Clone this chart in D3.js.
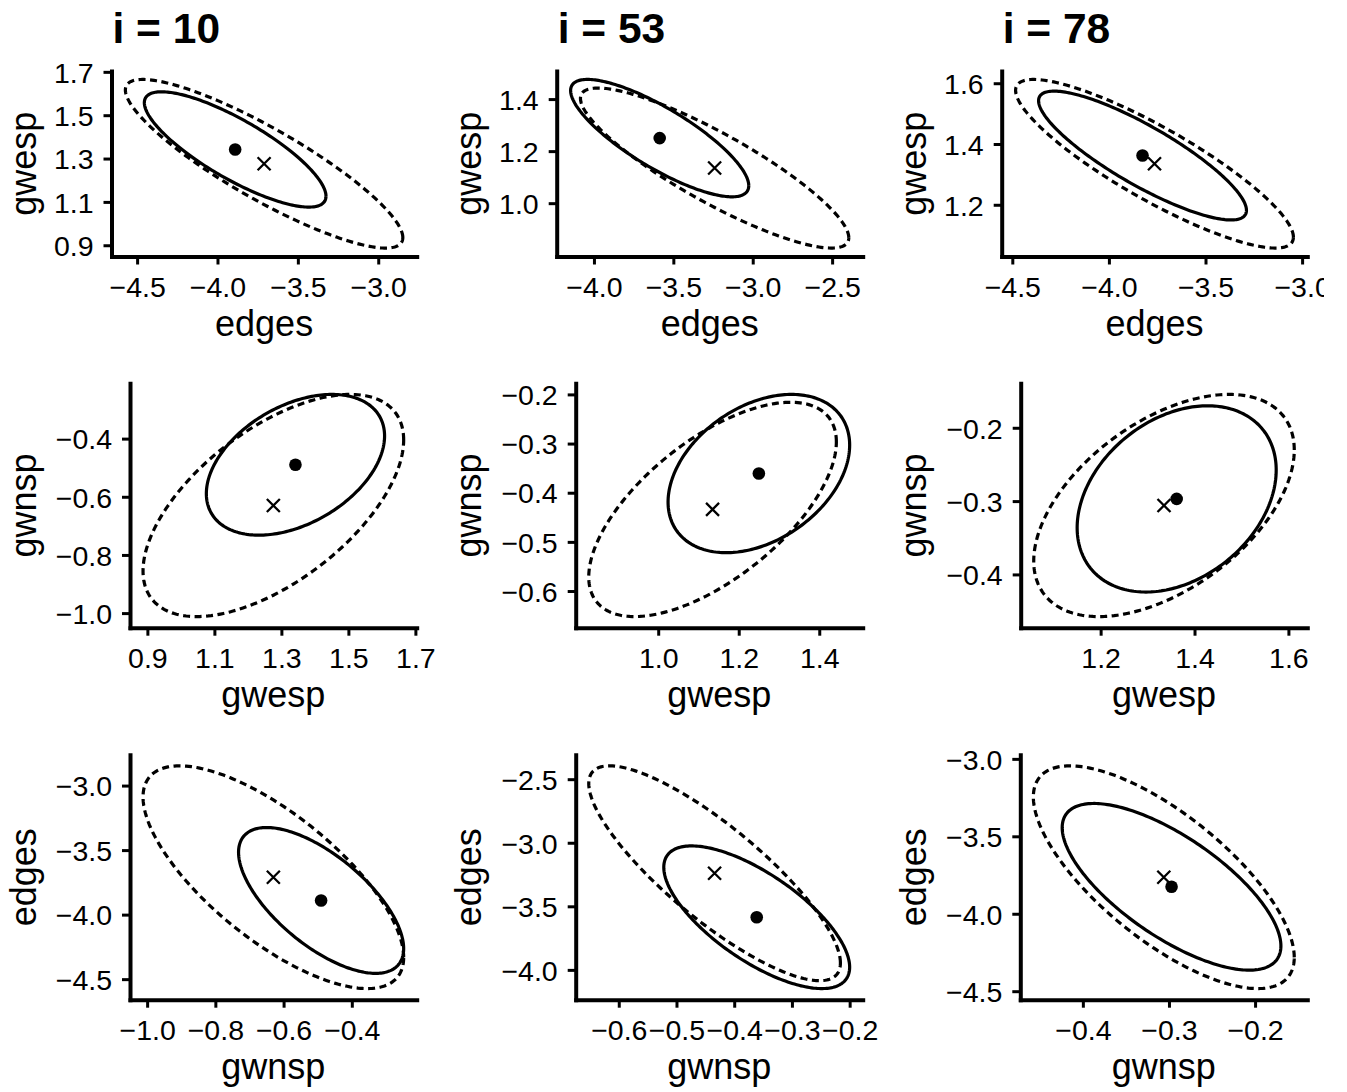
<!DOCTYPE html>
<html><head><meta charset="utf-8">
<script src="https://cdn.jsdelivr.net/npm/d3@7"></script>
<style>
body{margin:0;background:#fff}
svg{display:block}
text{font-family:"Liberation Sans",Arial,Helvetica,sans-serif;fill:#000}
</style>
</head><body>
<svg id="chart" width="1347" height="1092"></svg>
<script>
// ---------------- data ----------------
const iterations = [10, 53, 78];
const variables = ["edges", "gwesp", "gwnsp"];
// panel rows: [x variable index, y variable index]
const rowPairs = [[0, 1], [1, 2], [2, 0]];

// point estimates per iteration, order: edges, gwesp, gwnsp
const dotMean   = [[-3.89, 1.342, -0.490], [-3.586, 1.250, -0.361], [-3.826, 1.362, -0.297]];
const crossMean = [[-3.71, 1.276, -0.630], [-3.240, 1.135, -0.434], [-3.764, 1.335, -0.306]];

// ellipse half-extents per variable (solid around dot, dashed around cross)
const solidRadius  = [[0.565, 0.266, 0.242], [0.561, 0.2255, 0.161], [0.538, 0.212, 0.127]];
const dashedRadius = [[0.863, 0.389, 0.382], [0.845, 0.3075, 0.218], [0.719, 0.2775, 0.1515]];

// correlations per panel row: edges-gwesp, gwesp-gwnsp, gwnsp-edges
const solidCorr  = [[-0.81, 0.41, -0.66], [-0.81, 0.36, -0.70], [-0.85, 0.31, -0.71]];
const dashedCorr = [[-0.875, 0.59, -0.72], [-0.87, 0.63, -0.835], [-0.87, 0.50, -0.72]];

// tick values per iteration column
const edgesTicks = [[-4.5, -4.0, -3.5, -3.0], [-4.0, -3.5, -3.0, -2.5], [-4.5, -4.0, -3.5, -3.0]];
const gwespTicks = [[0.9, 1.1, 1.3, 1.5, 1.7], [1.0, 1.2, 1.4], [1.2, 1.4, 1.6]];
const gwnspTicks = [[-1.0, -0.8, -0.6, -0.4], [-0.6, -0.5, -0.4, -0.3, -0.2], [-0.4, -0.3, -0.2]];
const tickSets = [edgesTicks, gwespTicks, gwnspTicks];

// ---------------- layout ----------------
const rowTop = [71, 383.3, 754.7];
const rowBottom = [256.5, 627.7, 999.7];
const panelLeft = [[111.5, 130, 130], [556.7, 575.7, 575.7], [1001.7, 1020.7, 1020.3]];
const panelRight = [416.7, 862.7, 1307.3];
const yTitleX = [36, 481, 926];
const tickFont = 28.5, titleFont = 36, headFont = 42.5;

const svg = d3.select("#chart");
svg.append("rect").attr("width", 1347).attr("height", 1092).attr("fill", "#fff");
svg.append("defs").append("clipPath").attr("id", "cellclip")
  .append("rect").attr("x", 0).attr("y", 0).attr("width", 1324).attr("height", 1092);
const root = svg.append("g").attr("clip-path", "url(#cellclip)");

const fmt = d3.format(".1f");
const tAngles = d3.range(0, 241).map(k => 2 * Math.PI * k / 240);

function ellipsePoints(cx, cy, rx, ry, rho) {
  const s = Math.sqrt(1 - rho * rho);
  return tAngles.map(t => [cx + rx * Math.cos(t), cy + ry * (rho * Math.cos(t) + s * Math.sin(t))]);
}

function domainFor(col, v) {
  const lo = Math.min(dotMean[col][v] - solidRadius[col][v], crossMean[col][v] - dashedRadius[col][v]);
  const hi = Math.max(dotMean[col][v] + solidRadius[col][v], crossMean[col][v] + dashedRadius[col][v]);
  const pad = (hi - lo) * 0.05;
  return [lo - pad, hi + pad];
}

iterations.forEach((it, col) => {
  rowPairs.forEach(([vx, vy], row) => {
    const L = panelLeft[col][row], R = panelRight[col], T = rowTop[row], B = rowBottom[row];
    const x = d3.scaleLinear().domain(domainFor(col, vx)).range([L, R]);
    const y = d3.scaleLinear().domain(domainFor(col, vy)).range([B, T]);
    const g = root.append("g");

    // ellipses
    const line = d3.line().x(d => x(d[0])).y(d => y(d[1]));
    const rhoS = solidCorr[col][row], rhoD = dashedCorr[col][row];
    g.append("path")
      .attr("d", line(ellipsePoints(crossMean[col][vx], crossMean[col][vy], dashedRadius[col][vx], dashedRadius[col][vy], rhoD)))
      .attr("fill", "none").attr("stroke", "#000").attr("stroke-width", 3.2)
      .attr("stroke-dasharray", "7,4.5");
    g.append("path")
      .attr("d", line(ellipsePoints(dotMean[col][vx], dotMean[col][vy], solidRadius[col][vx], solidRadius[col][vy], rhoS)))
      .attr("fill", "none").attr("stroke", "#000").attr("stroke-width", 3.2);

    // points
    g.append("circle").attr("cx", x(dotMean[col][vx])).attr("cy", y(dotMean[col][vy]))
      .attr("r", 6.3).attr("fill", "#000");
    const h = 6.5;
    g.append("path")
      .attr("transform", `translate(${x(crossMean[col][vx])},${y(crossMean[col][vy])})`)
      .attr("d", `M${-h},${-h}L${h},${h}M${-h},${h}L${h},${-h}`)
      .attr("stroke", "#000").attr("stroke-width", 2.3).attr("fill", "none");

    // axes
    const xa = g.append("g").attr("transform", `translate(0,${B})`)
      .call(d3.axisBottom(x).tickValues(tickSets[vx][col]).tickFormat(fmt).tickSize(8).tickSizeOuter(0));
    xa.selectAll("text").attr("y", 40).attr("dy", "0").style("font-size", tickFont + "px");
    const ya = g.append("g").attr("transform", `translate(${L},0)`)
      .call(d3.axisLeft(y).tickValues(tickSets[vy][col]).tickFormat(fmt).tickSize(8).tickSizeOuter(0));
    ya.selectAll("text").attr("x", -18).attr("dy", "0.36em").style("font-size", tickFont + "px");
    [xa, ya].forEach(a => {
      a.attr("font-family", null).attr("font-size", null);
      a.select(".domain").attr("stroke", "#000").attr("stroke-width", 4).attr("stroke-linecap", "square");
      a.selectAll(".tick line").attr("stroke", "#000").attr("stroke-width", 3);
      a.selectAll("text").attr("fill", "#000");
    });

    // axis titles
    g.append("text").attr("x", (L + R) / 2).attr("y", B + 79)
      .attr("text-anchor", "middle").style("font-size", titleFont + "px").text(variables[vx]);
    g.append("text")
      .attr("transform", `translate(${yTitleX[col]},${(T + B) / 2}) rotate(-90)`)
      .attr("text-anchor", "middle").style("font-size", titleFont + "px").text(variables[vy]);

    if (row === 0) {
      g.append("text").attr("x", L + 1).attr("y", 43)
        .style("font-size", headFont + "px").style("font-weight", "bold")
        .text(`i = ${it}`);
    }
  });
});
</script>
</body></html>
